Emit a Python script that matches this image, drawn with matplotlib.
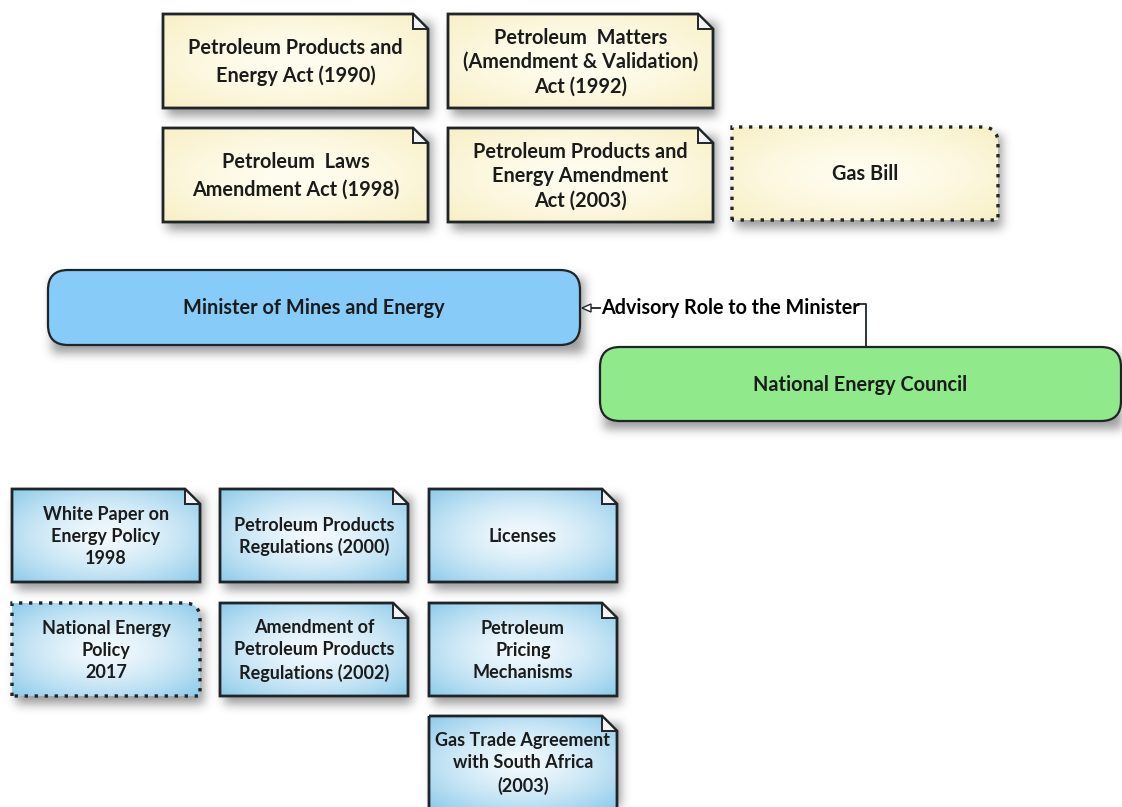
import numpy as np
import matplotlib
matplotlib.use("Agg")
import matplotlib.pyplot as plt
from matplotlib.patches import PathPatch, FancyBboxPatch, Polygon
from matplotlib.path import Path

W, H = 1122, 807

# ---------------- content ----------------
act_labels = [
    "Petroleum Products and\nEnergy Act (1990)",
    "Petroleum  Matters\n(Amendment & Validation)\nAct (1992)",
    "Petroleum  Laws\nAmendment Act (1998)",
    "Petroleum Products and\nEnergy Amendment\nAct (2003)",
    "Gas Bill",
]
act_planned = [False, False, False, False, True]

policy_labels = [
    "White Paper on\nEnergy Policy\n1998",
    "Petroleum Products\nRegulations (2000)",
    "Licenses",
    "National Energy\nPolicy\n2017",
    "Amendment of\nPetroleum Products\nRegulations (2002)",
    "Petroleum\nPricing\nMechanisms",
    "Gas Trade Agreement\nwith South Africa\n(2003)",
]
policy_planned = [False, False, False, True, False, False, False]

minister_label = "Minister of Mines and Energy"
council_label = "National Energy Council"
link_label = "Advisory Role to the Minister"

# ---------------- layout ----------------
act_boxes = [(163, 14, 265, 94), (448, 14, 265, 94),
             (163, 128, 265, 94), (448, 128, 265, 94),
             (732, 127, 266, 93)]
policy_boxes = [(12, 489, 188, 93), (220, 489, 188, 93), (429, 489, 188, 93),
                (12, 603, 188, 93), (220, 603, 188, 93), (429, 603, 188, 93),
                (429, 716, 188, 93)]
minister_box = (48, 270, 532, 75)
council_box = (600, 347, 521, 74)

FONT = ["Lato", "DejaVu Sans"]
TXT = "#1b1b1b"
EDGE = "#1e2428"
FS = 14.3
FS_SMALL = 13.0

fig = plt.figure(figsize=(W / 100, H / 100), dpi=100)
ax = fig.add_axes([0, 0, 1, 1])
ax.set_xlim(0, W)
ax.set_ylim(H, 0)
ax.axis("off")

# ---------------- shadows ----------------
mask = np.zeros((H, W))
def add_shadow(x, y, w, h, dx=4, dy=8):
    xa, xb = int(max(0, x + dx)), int(min(W, x + w + dx))
    ya, yb = int(max(0, y + dy)), int(min(H, y + h + dy))
    mask[ya:yb, xa:xb] = 1.0

for b in act_boxes + policy_boxes + [minister_box, council_box]:
    add_shadow(*b)

sig = 5.0
k = np.arange(-15, 16)
kern = np.exp(-k ** 2 / (2 * sig ** 2))
kern /= kern.sum()
blur = np.apply_along_axis(lambda r: np.convolve(r, kern, mode="same"), 1, mask)
blur = np.apply_along_axis(lambda c: np.convolve(c, kern, mode="same"), 0, blur)
shadow = np.zeros((H, W, 4))
shadow[..., 0:3] = 0.22
shadow[..., 3] = blur * 0.5
ax.imshow(shadow, extent=[0, W, H, 0], zorder=1, interpolation="bilinear")

# ---------------- helpers ----------------
def hex2rgb(h):
    h = h.lstrip("#")
    return np.array([int(h[i:i + 2], 16) / 255 for i in (0, 2, 4)])

def gradient_fill(patch, x, y, w, h, c_center, c_edge, power=1.5):
    yy, xx = np.mgrid[0:1:120j, 0:1:200j]
    d = np.sqrt(((xx - 0.5) / 0.5) ** 2 + ((yy - 0.5) / 0.5) ** 2) / np.sqrt(2)
    t = np.clip(d, 0, 1) ** power
    cc, ce = hex2rgb(c_center), hex2rgb(c_edge)
    img = cc[None, None, :] * (1 - t[..., None]) + ce[None, None, :] * t[..., None]
    im = ax.imshow(img, extent=[x, x + w, y + h, y], zorder=3,
                   interpolation="bilinear")
    im.set_clip_path(patch)

def note(x, y, w, h, label, planned, c_center, c_edge, fs, ls):
    f = 15
    x1, y1 = x + w, y + h
    if planned:
        r = 16
        verts = [(x, y1), (x, y), (x1 - r, y), (x1, y), (x1, y + r), (x1, y1), (x, y1)]
        codes = [Path.MOVETO, Path.LINETO, Path.LINETO, Path.CURVE3, Path.CURVE3,
                 Path.LINETO, Path.CLOSEPOLY]
        path = Path(verts, codes)
        fillp = PathPatch(path, facecolor="none", edgecolor="none", zorder=2)
        ax.add_patch(fillp)
        gradient_fill(fillp, x, y, w, h, c_center, c_edge)
        ax.add_patch(PathPatch(path, facecolor="none", edgecolor=EDGE, lw=2.4,
                               linestyle=(0, (1, 2.0)), zorder=4,
                               capstyle="butt"))
    else:
        pts = [(x, y), (x1 - f, y), (x1, y + f), (x1, y1), (x, y1)]
        poly = Polygon(pts, closed=True, facecolor="none", edgecolor="none", zorder=2)
        ax.add_patch(poly)
        gradient_fill(poly, x, y, w, h, c_center, c_edge)
        ax.add_patch(Polygon(pts, closed=True, facecolor="none", edgecolor=EDGE,
                             lw=2.0, zorder=4, joinstyle="miter"))
        ax.add_patch(Polygon([(x1 - f, y), (x1 - f, y + f), (x1, y + f)], closed=True,
                             facecolor="#f4f4f4", edgecolor=EDGE, lw=1.4, zorder=4))
    ax.text(x + w / 2, y + h / 2 + 1, label, ha="center", va="center",
            fontsize=fs, fontweight="bold", family=FONT, color=TXT,
            linespacing=ls, zorder=5)

for (x, y, w, h), lab, pl in zip(act_boxes, act_labels, act_planned):
    nlines = lab.count("\n") + 1
    note(x, y, w, h, lab, pl, "#fffdf0", "#f8efc4", FS,
         1.45 if nlines == 2 else 1.28)

for (x, y, w, h), lab, pl in zip(policy_boxes, policy_labels, policy_planned):
    nlines = lab.count("\n") + 1
    note(x, y, w, h, lab, pl, "#f2f9fd", "#8ccaea", FS_SMALL,
         1.28 if nlines == 2 else 1.36)

# ---------------- rounded boxes ----------------
def rbox(b, color, label):
    x, y, w, h = b
    p = FancyBboxPatch((x, y), w, h, boxstyle="round,pad=0,rounding_size=20",
                       facecolor=color, edgecolor=EDGE, lw=1.6, zorder=3)
    ax.add_patch(p)
    ax.text(x + w / 2, y + h / 2 + 1, label, ha="center", va="center",
            fontsize=FS, fontweight="bold", family=FONT, color=TXT, zorder=5)

rbox(minister_box, "#87cbf8", minister_label)
rbox(council_box, "#90ea8c", council_label)

# ---------------- connector ----------------
mx = minister_box[0] + minister_box[2]
cy = 308
lx = 866
ax.plot([lx, lx, 859], [council_box[1], cy - 4, cy - 4], color=EDGE, lw=1.3, zorder=4)
ax.text(601, cy, link_label, ha="left", va="center", fontsize=14.2,
        fontweight="bold", family=FONT, color="#000000", zorder=5)
ax.plot([591, 600], [cy, cy], color=EDGE, lw=1.3, zorder=4)
ax.add_patch(Polygon([(mx + 2, cy), (591, cy - 4), (591, cy + 4)], closed=True,
                     facecolor="white", edgecolor=EDGE, lw=1.0, zorder=4))

fig.savefig("out.png", dpi=100)
